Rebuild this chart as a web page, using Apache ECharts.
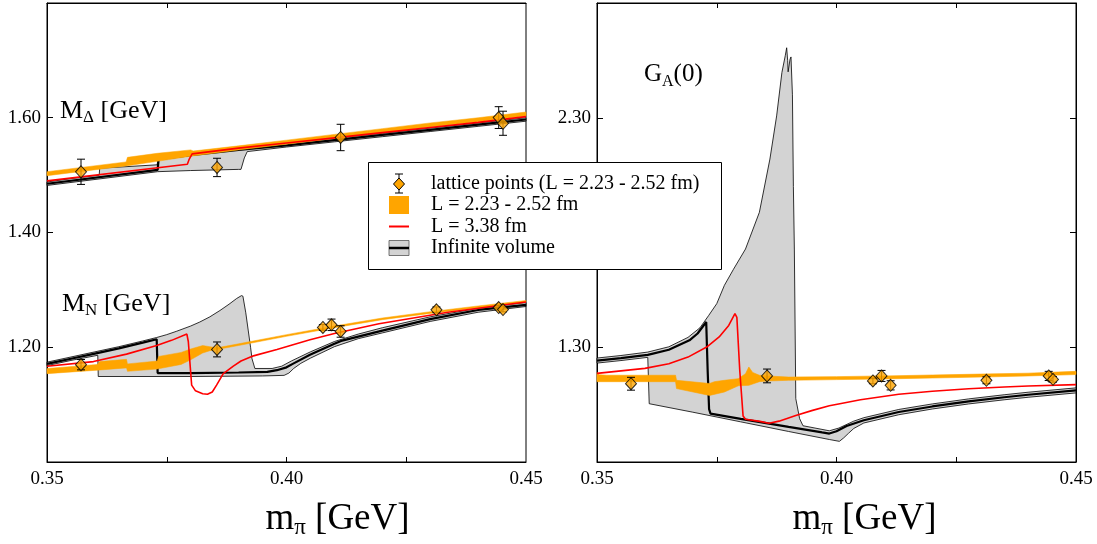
<!DOCTYPE html>
<html><head><meta charset="utf-8">
<script src="https://cdn.jsdelivr.net/npm/echarts@6/dist/echarts.min.js"></script>
<style>html,body{margin:0;padding:0;background:#fff}#c{width:1097px;height:544px}</style>
</head><body><div id="c"></div>
<script>
// ---------- tick labels ----------
const xLabelValues = [0.35, 0.40, 0.45];
const xTickValues = [0.375, 0.40, 0.425];
const yLeftLabelValues = [1.2, 1.4, 1.6];
const yRightLabelValues = [1.3, 2.3];
const yRightTickValues = [0.8, 1.3, 1.8, 2.3, 2.8];

// ---------- lattice points ----------
const mPi = [0.3571, 0.3855, 0.4076, 0.4094, 0.4113, 0.4313, 0.4443, 0.4452];
const mNVal = [1.1696, 1.1962, 1.2345, 1.2391, 1.2275, 1.2652, 1.2692, 1.2657];
const mNErr = [0.009, 0.013, 0.005, 0.010, 0.010, 0.005, 0.004, 0.004];
const mDeltaPi = [0.3571, 0.3855, 0.4113, 0.4443, 0.4452];
const mDeltaVal = [1.5058, 1.5134, 1.5656, 1.6003, 1.5904];
const mDeltaErr = [0.022, 0.016, 0.023, 0.019, 0.021];
const gAVal = [1.141, 1.175, 1.153, 1.175, 1.134, 1.156, 1.175, 1.160];
const gAErr = [0.028, 0.030, 0.012, 0.024, 0.020, 0.015, 0.020, 0.012];

// ---------- M_Delta curves ----------
const dGrayUpper = [[0.35,1.488],[0.355,1.494],[0.3609,1.500],[0.361,1.512],[0.373,1.518],[0.3732,1.531],[0.38,1.538],[0.385,1.542],[0.39,1.547],[0.40,1.555],[0.41,1.564],[0.42,1.573],[0.43,1.582],[0.44,1.591],[0.45,1.600]];
const dGrayLower = [[0.35,1.482],[0.3731,1.506],[0.38,1.508],[0.39,1.510],[0.3905,1.510],[0.3912,1.530],[0.3918,1.541],[0.40,1.549],[0.41,1.558],[0.42,1.567],[0.43,1.576],[0.44,1.585],[0.45,1.594]];
const dBlack = [[0.35,1.485],[0.3731,1.509],[0.3733,1.528],[0.38,1.535],[0.39,1.544],[0.40,1.552],[0.41,1.561],[0.42,1.570],[0.43,1.579],[0.44,1.588],[0.45,1.597]];
const dRed = [[0.35,1.490],[0.3793,1.519],[0.3797,1.528],[0.3803,1.537],[0.39,1.547],[0.40,1.556],[0.41,1.565],[0.42,1.574],[0.43,1.583],[0.44,1.592],[0.45,1.602]];
const dOrangeUpper = [[0.35,1.506],[0.3665,1.523],[0.3668,1.531],[0.373,1.538],[0.38,1.544],[0.3805,1.542],[0.39,1.551],[0.40,1.561],[0.41,1.571],[0.42,1.581],[0.43,1.591],[0.44,1.600],[0.45,1.610]];
const dOrangeLower = [[0.35,1.499],[0.3665,1.516],[0.373,1.524],[0.38,1.533],[0.39,1.544],[0.40,1.554],[0.41,1.564],[0.42,1.574],[0.43,1.584],[0.44,1.593],[0.45,1.603]];

// ---------- M_N curves ----------
const nGrayUpper = [[0.35,1.174],[0.355,1.183],[0.36,1.192],[0.365,1.201],[0.37,1.211],[0.3729,1.217],[0.375,1.222],[0.3771,1.228],[0.38,1.237],[0.3819,1.244],[0.384,1.253],[0.3861,1.264],[0.388,1.275],[0.3896,1.285],[0.3906,1.290],[0.3909,1.289],[0.3915,1.26],[0.392,1.23],[0.3925,1.20],[0.3928,1.18],[0.3934,1.163],[0.397,1.163],[0.399,1.167],[0.401,1.176],[0.405,1.192],[0.41,1.210],[0.415,1.223],[0.42,1.234],[0.43,1.253],[0.44,1.268],[0.45,1.278]];
const nGrayLower = [[0.35,1.168],[0.355,1.177],[0.3606,1.186],[0.3607,1.149],[0.38,1.149],[0.395,1.150],[0.3995,1.151],[0.4005,1.155],[0.4015,1.163],[0.403,1.172],[0.405,1.181],[0.41,1.201],[0.415,1.215],[0.42,1.225],[0.43,1.245],[0.44,1.261],[0.45,1.271]];
const nBlack = [[0.35,1.171],[0.355,1.180],[0.36,1.189],[0.365,1.198],[0.37,1.208],[0.3729,1.214],[0.3731,1.155],[0.38,1.155],[0.39,1.156],[0.396,1.157],[0.398,1.160],[0.40,1.165],[0.4013,1.171],[0.4049,1.187],[0.41,1.206],[0.4114,1.211],[0.42,1.229],[0.43,1.249],[0.44,1.265],[0.45,1.274]];
const nRed = [[0.35,1.167],[0.3597,1.175],[0.3666,1.188],[0.3729,1.203],[0.376,1.212],[0.3792,1.223],[0.3795,1.21],[0.3802,1.134],[0.381,1.124],[0.3825,1.119],[0.3835,1.118],[0.3845,1.122],[0.3854,1.134],[0.3868,1.154],[0.3889,1.167],[0.3905,1.176],[0.3931,1.185],[0.398,1.196],[0.4049,1.213],[0.41,1.224],[0.4193,1.241],[0.4337,1.261],[0.45,1.279]];
const nOrangeUpper = [[0.35,1.163],[0.3605,1.170],[0.361,1.175],[0.3666,1.179],[0.3668,1.171],[0.373,1.176],[0.3733,1.184],[0.378,1.191],[0.380,1.197],[0.3825,1.203],[0.384,1.201],[0.3855,1.199],[0.39,1.206],[0.40,1.222],[0.41,1.237],[0.42,1.251],[0.43,1.262],[0.44,1.272],[0.45,1.2815]];
const nOrangeLower = [[0.35,1.154],[0.3605,1.160],[0.3666,1.164],[0.3668,1.158],[0.373,1.162],[0.378,1.170],[0.380,1.178],[0.3825,1.190],[0.384,1.194],[0.3855,1.196],[0.39,1.203],[0.40,1.219],[0.41,1.234],[0.42,1.248],[0.43,1.259],[0.44,1.269],[0.45,1.2785]];

// ---------- G_A curves ----------
const gGrayUpper = [[0.35,1.253],[0.355,1.264],[0.3606,1.279],[0.365,1.302],[0.369,1.343],[0.3715,1.385],[0.3733,1.438],[0.375,1.49],[0.3766,1.57],[0.3785,1.64],[0.381,1.728],[0.3839,1.888],[0.3861,2.12],[0.3875,2.308],[0.3886,2.497],[0.3893,2.57],[0.3896,2.605],[0.3898,2.55],[0.3899,2.50],[0.3903,2.555],[0.3905,2.565],[0.3908,2.40],[0.391,2.0],[0.3912,1.728],[0.3915,1.076],[0.3923,0.989],[0.393,0.958],[0.3985,0.936],[0.4005,0.948],[0.4036,0.978],[0.4057,0.993],[0.413,1.029],[0.42,1.053],[0.4276,1.075],[0.435,1.093],[0.44,1.104],[0.45,1.123]];
const gGrayLower = [[0.35,1.231],[0.355,1.242],[0.3606,1.256],[0.3609,1.054],[0.37,1.017],[0.38,0.975],[0.39,0.933],[0.3985,0.898],[0.4006,0.890],[0.4015,0.905],[0.4025,0.925],[0.4036,0.946],[0.4057,0.970],[0.413,1.006],[0.42,1.031],[0.4276,1.053],[0.435,1.071],[0.44,1.082],[0.45,1.101]];
const gBlack = [[0.35,1.242],[0.355,1.253],[0.3606,1.267],[0.365,1.289],[0.3693,1.330],[0.371,1.36],[0.3728,1.41],[0.3731,1.20],[0.3734,1.03],[0.3737,1.011],[0.38,0.988],[0.39,0.953],[0.397,0.929],[0.3985,0.924],[0.40,0.934],[0.4021,0.957],[0.4057,0.982],[0.413,1.018],[0.42,1.042],[0.4276,1.064],[0.435,1.082],[0.44,1.093],[0.45,1.112]];
const gRed = [[0.35,1.186],[0.355,1.197],[0.36,1.208],[0.365,1.228],[0.369,1.257],[0.3729,1.301],[0.3755,1.345],[0.3775,1.395],[0.3788,1.446],[0.3792,1.43],[0.3798,1.2],[0.3805,1.0],[0.381,0.986],[0.384,0.977],[0.3859,0.969],[0.388,0.978],[0.3915,1.003],[0.395,1.025],[0.3985,1.045],[0.4007,1.054],[0.405,1.071],[0.413,1.095],[0.42,1.108],[0.4276,1.119],[0.435,1.127],[0.44,1.131],[0.45,1.137]];
const gOrangeUpper = [[0.35,1.190],[0.3505,1.180],[0.352,1.178],[0.3664,1.178],[0.3666,1.156],[0.3735,1.142],[0.3745,1.150],[0.3766,1.156],[0.3795,1.163],[0.381,1.185],[0.3817,1.214],[0.3825,1.190],[0.3839,1.178],[0.3855,1.175],[0.39,1.170],[0.40,1.172],[0.41,1.175],[0.42,1.179],[0.43,1.183],[0.44,1.187],[0.45,1.195]];
const gOrangeLower = [[0.35,1.150],[0.3664,1.150],[0.3666,1.120],[0.3735,1.090],[0.3766,1.105],[0.3795,1.132],[0.3817,1.134],[0.3839,1.150],[0.3855,1.153],[0.39,1.156],[0.40,1.159],[0.41,1.162],[0.42,1.166],[0.43,1.170],[0.44,1.175],[0.45,1.181]];

// ---------- styles ----------
const FONT = 'Liberation Serif';
const ORANGE = '#FFA500', RED = '#FF0000', GRAY = '#D3D3D3';

function band(upper, lower, xi, yi, fill, stroke, lw, z) {
  const pts = upper.concat(lower.slice().reverse());
  return {
    type: 'custom', xAxisIndex: xi, yAxisIndex: yi, z: z, silent: true,
    data: pts, encode: {x: 0, y: 1},
    renderItem: function (params, api) {
      if (params.dataIndex !== 0) return null;
      return {type: 'polygon', shape: {points: pts.map(p => api.coord(p))},
              style: {fill: fill, stroke: stroke, lineWidth: lw}};
    }
  };
}
function line(data, xi, yi, color, width, z) {
  return {type: 'line', xAxisIndex: xi, yAxisIndex: yi, data: data, showSymbol: false,
          symbol: 'none', lineStyle: {color: color, width: width}, z: z, silent: true};
}
function errbars(xs, vals, errs, xi, yi) {
  return {
    type: 'custom', xAxisIndex: xi, yAxisIndex: yi, z: 9, silent: true,
    data: xs.map((x, i) => [x, vals[i], errs[i]]), encode: {x: 0, y: 1},
    renderItem: function (params, api) {
      const x = api.value(0), y = api.value(1), e = api.value(2);
      const t = api.coord([x, y + e]), b = api.coord([x, y - e]);
      const s = {stroke: '#000', lineWidth: 1};
      return {type: 'group', children: [
        {type: 'line', shape: {x1: t[0], y1: t[1], x2: b[0], y2: b[1]}, style: s},
        {type: 'line', shape: {x1: t[0] - 4, y1: t[1], x2: t[0] + 4, y2: t[1]}, style: s},
        {type: 'line', shape: {x1: b[0] - 4, y1: b[1], x2: b[0] + 4, y2: b[1]}, style: s}
      ]};
    }
  };
}
function points(xs, vals, xi, yi) {
  return {type: 'scatter', xAxisIndex: xi, yAxisIndex: yi, z: 10, silent: true,
          data: xs.map((x, i) => [x, vals[i]]), symbol: 'diamond', symbolSize: [11, 12],
          itemStyle: {color: ORANGE, borderColor: '#000', borderWidth: 1}};
}

const labelStyle = {fontFamily: FONT, fontSize: 19, color: '#000'};
const axisTitle = {
  name: '{m|m}{s|π}{m| [GeV]}', nameLocation: 'middle', nameGap: 37
};
function titleStyle(shift) {
  return {padding: [0, 0, 0, shift], rich: {
    m: {fontFamily: FONT, fontSize: 37, lineHeight: 40, color: '#000'},
    s: {fontFamily: FONT, fontSize: 23, lineHeight: 24, verticalAlign: 'bottom', color: '#000'}
  }};
}
function xBottom(gi, shift) {
  return Object.assign({
    gridIndex: gi, type: 'value', min: 0.35, max: 0.45, position: 'bottom',
    axisLine: {show: true, lineStyle: {color: '#000', width: 1}},
    axisTick: {show: true, inside: true, length: 5, customValues: xTickValues, lineStyle: {color: '#000'}},
    axisLabel: Object.assign({show: true, customValues: xLabelValues, margin: 8,
      formatter: v => v.toFixed(2)}, labelStyle),
    splitLine: {show: false}, nameTextStyle: titleStyle(shift)
  }, axisTitle);
}
function xTop(gi) {
  return {gridIndex: gi, type: 'value', min: 0.35, max: 0.45, position: 'top',
    axisLine: {show: true, lineStyle: {color: '#000', width: 1}},
    axisTick: {show: true, inside: true, length: 5, customValues: xTickValues, lineStyle: {color: '#000'}},
    axisLabel: {show: false}, splitLine: {show: false}};
}

const option = {
  animation: false,
  backgroundColor: '#fff',
  grid: [
    {left: 47, top: 3, width: 479, height: 460, show: true, borderColor: '#000', borderWidth: 1, backgroundColor: 'transparent'},
    {left: 597, top: 3, width: 479, height: 460, show: true, borderColor: '#000', borderWidth: 1, backgroundColor: 'transparent'}
  ],
  xAxis: [xBottom(0, 102), xTop(0), xBottom(1, 56), xTop(1)],
  yAxis: [
    {gridIndex: 0, type: 'value', min: 1.0, max: 1.8,
     axisLine: {show: true, lineStyle: {color: '#000'}},
     axisTick: {show: true, inside: true, length: 6, customValues: yLeftLabelValues, lineStyle: {color: '#000'}},
     axisLabel: Object.assign({customValues: yLeftLabelValues, margin: 6, formatter: v => v.toFixed(2)}, labelStyle),
     splitLine: {show: false}},
    {gridIndex: 1, type: 'value', min: 0.8, max: 2.8,
     axisLine: {show: true, lineStyle: {color: '#000'}},
     axisTick: {show: true, inside: true, length: 6, customValues: yRightTickValues, lineStyle: {color: '#000'}},
     axisLabel: Object.assign({customValues: yRightLabelValues, margin: 6, formatter: v => v.toFixed(2)}, labelStyle),
     splitLine: {show: false}},
    {gridIndex: 1, type: 'value', min: 0.8, max: 2.8, position: 'right',
     axisLine: {show: true, lineStyle: {color: '#000'}},
     axisTick: {show: true, inside: true, length: 6, customValues: yRightTickValues, lineStyle: {color: '#000'}},
     axisLabel: {show: false}, splitLine: {show: false}}
  ],
  series: [
    // M_Delta
    band(dGrayUpper, dGrayLower, 0, 0, GRAY, '#000', 0.8, 1),
    line(dBlack, 0, 0, '#000', 2.2, 2),
    band(dOrangeUpper, dOrangeLower, 0, 0, ORANGE, ORANGE, 0.5, 3),
    line(dRed, 0, 0, RED, 1.6, 4),
    errbars(mDeltaPi, mDeltaVal, mDeltaErr, 0, 0),
    points(mDeltaPi, mDeltaVal, 0, 0),
    // M_N
    band(nGrayUpper, nGrayLower, 0, 0, GRAY, '#000', 0.8, 1),
    line(nBlack, 0, 0, '#000', 2.2, 2),
    band(nOrangeUpper, nOrangeLower, 0, 0, ORANGE, ORANGE, 0.5, 3),
    line(nRed, 0, 0, RED, 1.6, 4),
    errbars(mPi, mNVal, mNErr, 0, 0),
    points(mPi, mNVal, 0, 0),
    // G_A
    band(gGrayUpper, gGrayLower, 2, 1, GRAY, '#000', 0.8, 1),
    line(gBlack, 2, 1, '#000', 2.2, 2),
    band(gOrangeUpper, gOrangeLower, 2, 1, ORANGE, ORANGE, 0.6, 3),
    line(gRed, 2, 1, RED, 1.6, 4),
    errbars(mPi, gAVal, gAErr, 2, 1),
    points(mPi, gAVal, 2, 1)
  ],
  graphic: [
    {type: 'text', z: 50, style: {x: 60, y: 111, text: '{a|M}{b|Δ}{a| [GeV]}', align: 'left', verticalAlign: 'middle',
      rich: {a: {fontFamily: FONT, fontSize: 26, lineHeight: 30, fill: '#000'}, b: {fontFamily: FONT, fontSize: 17, lineHeight: 18, verticalAlign: 'bottom', fill: '#000'}}}},
    {type: 'text', z: 50, style: {x: 62, y: 304, text: '{a|M}{b|N}{a| [GeV]}', align: 'left', verticalAlign: 'middle',
      rich: {a: {fontFamily: FONT, fontSize: 26, lineHeight: 30, fill: '#000'}, b: {fontFamily: FONT, fontSize: 17, lineHeight: 18, verticalAlign: 'bottom', fill: '#000'}}}},
    {type: 'text', z: 50, style: {x: 644, y: 74.5, text: '{a|G}{b|A}{a|(0)}', align: 'left', verticalAlign: 'middle',
      rich: {a: {fontFamily: FONT, fontSize: 25, lineHeight: 30, fill: '#000'}, b: {fontFamily: FONT, fontSize: 16, lineHeight: 18, verticalAlign: 'bottom', fill: '#000'}}}},
    // legend
    {type: 'group', z: 100, children: [
      {type: 'rect', z: 100, shape: {x: 368.5, y: 162.5, width: 353, height: 107}, style: {fill: '#fff', stroke: '#000', lineWidth: 1}},
      {type: 'line', z: 101, shape: {x1: 399, y1: 174, x2: 399, y2: 193}, style: {stroke: '#000', lineWidth: 1}},
      {type: 'line', z: 101, shape: {x1: 395, y1: 174, x2: 403, y2: 174}, style: {stroke: '#000', lineWidth: 1}},
      {type: 'line', z: 101, shape: {x1: 395, y1: 193, x2: 403, y2: 193}, style: {stroke: '#000', lineWidth: 1}},
      {type: 'polygon', z: 102, shape: {points: [[399, 178], [404.5, 184], [399, 190], [393.5, 184]]}, style: {fill: ORANGE, stroke: '#000', lineWidth: 1}},
      {type: 'text', z: 101, style: {x: 431, y: 183.5, text: 'lattice points (L = 2.23 - 2.52 fm)', font: '20px "Liberation Serif"', fill: '#000', verticalAlign: 'middle'}},
      {type: 'rect', z: 101, shape: {x: 389, y: 196, width: 20, height: 18}, style: {fill: ORANGE}},
      {type: 'text', z: 101, style: {x: 431, y: 205, text: 'L = 2.23 - 2.52 fm', font: '20px "Liberation Serif"', fill: '#000', verticalAlign: 'middle'}},
      {type: 'line', z: 101, shape: {x1: 389, y1: 226.5, x2: 409, y2: 226.5}, style: {stroke: RED, lineWidth: 2}},
      {type: 'text', z: 101, style: {x: 431, y: 226.5, text: 'L = 3.38 fm', font: '20px "Liberation Serif"', fill: '#000', verticalAlign: 'middle'}},
      {type: 'rect', z: 101, shape: {x: 389, y: 240.5, width: 20, height: 15}, style: {fill: GRAY, stroke: '#555', lineWidth: 0.8}},
      {type: 'line', z: 102, shape: {x1: 389, y1: 248, x2: 409, y2: 248}, style: {stroke: '#000', lineWidth: 2.5}},
      {type: 'text', z: 101, style: {x: 431, y: 248, text: 'Infinite volume', font: '20px "Liberation Serif"', fill: '#000', verticalAlign: 'middle'}}
    ]}
  ]
};
const chart = echarts.init(document.getElementById('c'), null, {renderer: 'canvas'});
chart.setOption(option);
</script></body></html>
